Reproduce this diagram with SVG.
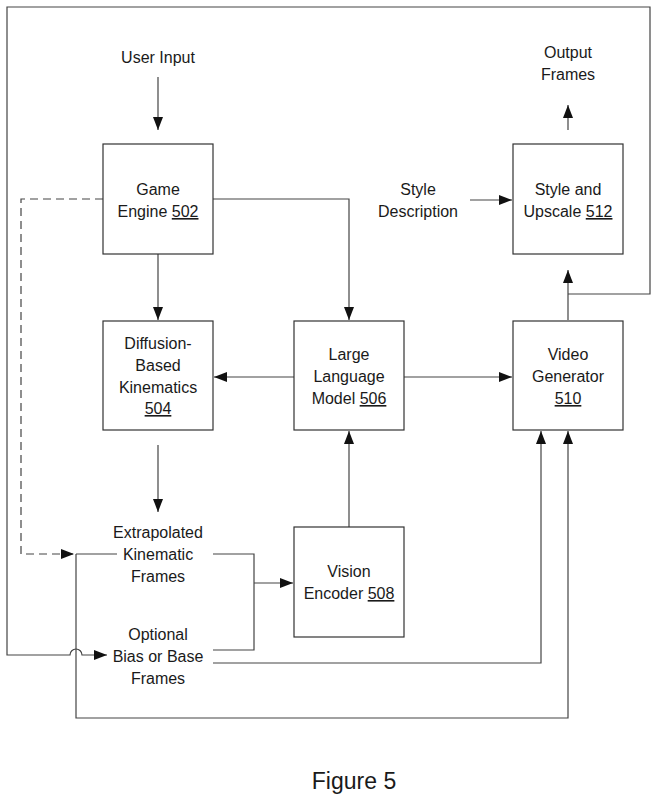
<svg xmlns="http://www.w3.org/2000/svg" width="658" height="800" viewBox="0 0 658 800">
<style>
  text { font-family: "Liberation Sans", Arial, sans-serif; font-size: 16px; fill: #1a1a1a; text-anchor: middle; }
  .box { fill: #fff; stroke: #333; stroke-width: 1.2; }
  .ln { fill: none; stroke: #444; stroke-width: 1.2; }
  .arr { marker-end: url(#ah); }
  .dash { stroke-dasharray: 8 5; }
  .u { text-decoration: underline; }
  .fig { font-size: 23px; }
</style>
<defs>
  <marker id="ah" markerUnits="userSpaceOnUse" markerWidth="14" markerHeight="11" refX="13" refY="5" orient="auto">
    <path d="M0,0 L13,5 L0,10 z" fill="#111"/>
  </marker>
</defs>
<rect width="658" height="800" fill="#fff"/>
<g id="connectors">
  <path class="ln arr" d="M158,77 V130"/>
  <path class="ln arr" d="M158,254 V320"/>
  <path class="ln arr" d="M213,199 H349 V320"/>
  <path class="ln arr" d="M294,377 H214"/>
  <path class="ln arr" d="M404,377 H512"/>
  <path class="ln arr" d="M158,445 V512"/>
  <path class="ln arr dash" d="M103,199 H21 V554 H74"/>
  <path class="ln" d="M76,554 H117"/>
  <path class="ln" d="M213,554 H254 V650 H213"/>
  <path class="ln arr" d="M254,583 H293"/>
  <path class="ln arr" d="M76,554 V718 H568 V431"/>
  <path class="ln arr" d="M213,663 H541 V431"/>
  <path class="ln arr" d="M349,527 V431"/>
  <path class="ln arr" d="M470,200 H512"/>
  <path class="ln arr" d="M568,130 V105"/>
  <path class="ln arr" d="M568,320 V270"/>
  <path class="ln arr" d="M568,294 H650 V7 H7 V655 H70 A6,6 0 0 1 82,655 H107"/>
</g>
<g id="user-input"><text x="158" y="63">User Input</text></g>
<g id="game-engine">
  <rect class="box" x="103" y="144" width="110" height="110"/>
  <text x="158" y="195">Game</text>
  <text x="158" y="217">Engine <tspan class="u">502</tspan></text>
</g>
<g id="diffusion">
  <rect class="box" x="103" y="321" width="110" height="109"/>
  <text x="158" y="349">Diffusion-</text>
  <text x="158" y="371">Based</text>
  <text x="158" y="393">Kinematics</text>
  <text x="158" y="414"><tspan class="u">504</tspan></text>
</g>
<g id="llm">
  <rect class="box" x="294" y="321" width="110" height="109"/>
  <text x="349" y="360">Large</text>
  <text x="349" y="382">Language</text>
  <text x="349" y="404">Model <tspan class="u">506</tspan></text>
</g>
<g id="video-generator">
  <rect class="box" x="513" y="321" width="110" height="109"/>
  <text x="568" y="360">Video</text>
  <text x="568" y="382">Generator</text>
  <text x="568" y="404"><tspan class="u">510</tspan></text>
</g>
<g id="style-upscale">
  <rect class="box" x="513" y="144" width="110" height="110"/>
  <text x="568" y="195">Style and</text>
  <text x="568" y="217">Upscale <tspan class="u">512</tspan></text>
</g>
<g id="style-description">
  <text x="418" y="195">Style</text>
  <text x="418" y="217">Description</text>
</g>
<g id="output-frames">
  <text x="568" y="58">Output</text>
  <text x="568" y="80">Frames</text>
</g>
<g id="vision-encoder">
  <rect class="box" x="294" y="527" width="110" height="110"/>
  <text x="349" y="577">Vision</text>
  <text x="349" y="599">Encoder <tspan class="u">508</tspan></text>
</g>
<g id="extrapolated">
  <text x="158" y="538">Extrapolated</text>
  <text x="158" y="560">Kinematic</text>
  <text x="158" y="582">Frames</text>
</g>
<g id="optional-bias">
  <text x="158" y="640">Optional</text>
  <text x="158" y="662">Bias or Base</text>
  <text x="158" y="684">Frames</text>
</g>
<g id="caption"><text class="fig" x="354" y="789">Figure 5</text></g>
</svg>
